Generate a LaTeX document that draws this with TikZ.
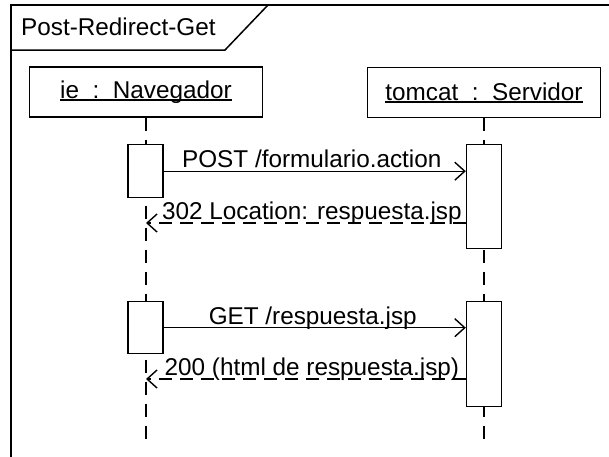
\documentclass[tikz,border=0pt]{standalone}
\usepackage{fontspec}
\setmainfont{Liberation Sans}
\usetikzlibrary{arrows.meta}

% underlined object name, rule set just under the baseline
\newsavebox\ulbox
\newcommand\objname[1]{\sbox\ulbox{#1}\rlap{\rule[-2.6pt]{\wd\ulbox}{1.4pt}}\usebox\ulbox}

\tikzset{
  umlfont/.style={font=\fontsize{24.3}{28}\selectfont},
  frameline/.style={line width=1.5pt},
  lifehead/.style={draw, line width=1.4pt, fill=white, minimum width=233pt,
                   minimum height=50pt, inner sep=0pt, umlfont},
  actbox/.style={draw, fill=white, line width=1.4pt, minimum width=35pt, inner sep=0pt},
  lifeline/.style={line width=1.4pt, dash pattern=on 13pt off 9pt},
  msg/.style={line width=1.4pt, -{Straight Barb[length=10pt,width=18pt]}},
  reply/.style={msg, dash pattern=on 13pt off 8pt},
  msglabel/.style={anchor=base, inner sep=0pt, yshift=3.5pt, umlfont},
}

\begin{document}
\begin{tikzpicture}[x=1pt, y=-1pt]
  \useasboundingbox (0,0) rectangle (609,456);
  \clip (0,0) rectangle (609,456);

  % interaction frame with its name tab
  \draw[frameline] (11,480) -- (11,5) -- (630,5);
  \draw[frameline] (11,50) -- (225,50) -- (268,5);
  \node[anchor=base west, inner sep=0pt, umlfont] (title) at (21,35) {Post-Redirect-Get};

  % participants
  \node[lifehead] (ie) at (146,92) {\objname{ie\ \ :\ \ Navegador}};
  \node[lifehead] (tomcat) at (484,92.5) {\objname{tomcat\ \ :\ \ Servidor}};

  % lifelines
  \coordinate (ieEnd) at (146,440);
  \coordinate (tcEnd) at (484,440);
  \draw[lifeline] (ie.south) -- (ieEnd);
  \draw[lifeline] (tomcat.south) -- (tcEnd);

  % activations
  \node[actbox, minimum height=53pt, anchor=north] (ieActA) at (145.5,144) {};
  \node[actbox, minimum height=104pt, anchor=north] (tcActA) at (484,144) {};
  \node[actbox, minimum height=52pt, anchor=north] (ieActB) at (145.5,301) {};
  \node[actbox, minimum height=105pt, anchor=north] (tcActB) at (484,301) {};

  % reply targets on the browser lifeline
  \coordinate (retA) at (146,223);
  \coordinate (retB) at (146,379);

  % messages
  \draw[msg] (ieActA.east) -- node[msglabel, xshift=-3pt] (postLbl) {POST /formulario.action} (tcActA.west |- ieActA.east);
  \draw[reply] (tcActA.west |- retA) -- node[msglabel, xshift=6pt] (locLbl) {302 Location: respuesta.jsp} (retA);
  \draw[msg] (ieActB.east) -- node[msglabel, xshift=-2pt] (getLbl) {GET /respuesta.jsp} (tcActB.west |- ieActB.east);
  \draw[reply] (tcActB.west |- retB) -- node[msglabel, xshift=6pt] (okLbl) {200 (html de respuesta.jsp)} (retB);
\end{tikzpicture}
\end{document}
